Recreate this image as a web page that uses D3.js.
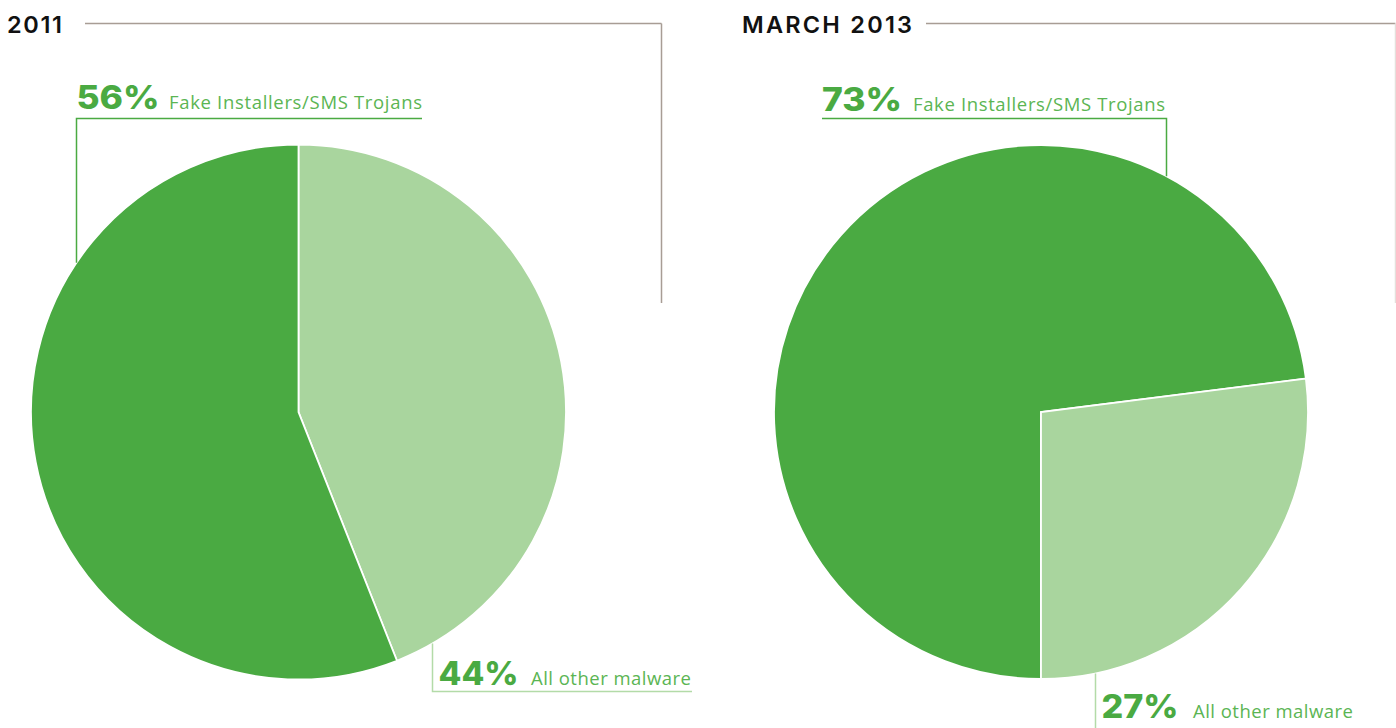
<!DOCTYPE html>
<html>
<head>
<meta charset="utf-8">
<script src="https://cdn.jsdelivr.net/npm/d3@7"></script>
<style>
  html, body { margin: 0; padding: 0; background: #ffffff; }
  svg { display: block; }
  .title { font-family: "Inter", "Open Sans", sans-serif; font-weight: 600; fill: #111111; }
  .pct { font-family: "Inter", "Open Sans", sans-serif; font-weight: 800; fill: #4aaa42; }
  .lbl { font-family: "Open Sans", "Lato", sans-serif; font-weight: 400; fill: #5bb553; }
</style>
</head>
<body>
<svg id="chart" width="1396" height="728"></svg>
<script>
// Share of Android malware families, by period
const periods = ["2011", "MARCH 2013"];
const categories = ["Fake Installers/SMS Trojans", "All other malware"];
const shares2011 = [56, 44];
const shares2013 = [73, 27];

const svg = d3.select("#chart");

const colors = d3.scaleOrdinal()
  .domain(categories)
  .range(["#4aaa42", "#a9d59e"]);

const frameColor = "#a89d95";
const leaderDark = "#4aaa42";
const leaderLight = "#b3dba8";

// Layout of the two panels
const panels = [
  {
    title: periods[0], values: shares2011,
    cx: 298.5, cy: 412, r: 267.5,
    start: 0, order: [1, 0],
    titleX: 7, titleW: 55, frameX0: 85, frameX1: 661.5, frameY1: 303, sideColor: frameColor,
    topAtLeft: true,
    top: { x: 76.5, y: 109, lineY: 118.5, lineX1: 422, pctW: 83, lblX: 169, lblW: 253 },
    bottom: { x: 432.5, y: 685, lineY: 691.5, lineX1: 692, pctW: 80, lblX: 531, lblW: 160 }
  },
  {
    title: periods[1], values: shares2013,
    cx: 1041, cy: 412, r: 267,
    start: Math.PI, order: [0, 1],
    titleX: 742, titleW: 170, frameX0: 926, frameX1: 1395.5, frameY1: 303, sideColor: "#e4e0dc",
    topAtLeft: false,
    top: { x: 822, y: 111, lineY: 118.5, lineX1: 1166.5, pctW: 80, lblX: 913, lblW: 252 },
    bottom: { x: 1095.5, y: 718, lineY: 735, lineX1: 1360, pctW: 77, lblX: 1193, lblW: 160 }
  }
];

function label(g, x, y, pct, pctW, lblX, lblW, text) {
  g.append("text").attr("class", "pct")
    .attr("x", x).attr("y", y).attr("font-size", 32)
    .attr("textLength", pctW).attr("lengthAdjust", "spacingAndGlyphs")
    .text(pct + "%");
  g.append("text").attr("class", "lbl")
    .attr("x", lblX).attr("y", y).attr("font-size", 18.5)
    .attr("textLength", lblW).attr("lengthAdjust", "spacing")
    .text(text);
}

panels.forEach(p => {
  const g = svg.append("g");

  // title and frame rule
  g.append("text").attr("class", "title")
    .attr("x", p.titleX).attr("y", 33)
    .attr("font-size", 23.5)
    .attr("textLength", p.titleW).attr("lengthAdjust", "spacing")
    .text(p.title);
  g.append("path")
    .attr("d", `M${p.frameX0},23.5H${p.frameX1}`)
    .attr("fill", "none").attr("stroke", frameColor).attr("stroke-width", 1.5);
  g.append("path")
    .attr("d", `M${p.frameX1},23.5V${p.frameY1}`)
    .attr("fill", "none").attr("stroke", p.sideColor).attr("stroke-width", 1.5);

  // pie
  const rows = p.order.map(i => ({ cat: categories[i], value: p.values[i] }));
  const pie = d3.pie().sort(null).value(d => d.value)
    .startAngle(p.start).endAngle(p.start + 2 * Math.PI);
  const arc = d3.arc().innerRadius(0).outerRadius(p.r);
  g.append("g").attr("transform", `translate(${p.cx},${p.cy})`)
    .selectAll("path").data(pie(rows)).join("path")
    .attr("d", arc)
    .attr("fill", d => colors(d.data.cat))
    .attr("stroke", "#ffffff")
    .attr("stroke-width", 1.8)
    .attr("stroke-linejoin", "miter");

  // top leader (Fake Installers)
  const t = p.top;
  const topEdgeX = p.topAtLeft ? t.x : t.lineX1;
  const topEdgeY = p.cy - Math.sqrt(p.r * p.r - (topEdgeX - p.cx) ** 2);
  g.append("path")
    .attr("d", p.topAtLeft
      ? `M${t.lineX1},${t.lineY}H${t.x}V${topEdgeY}`
      : `M${t.x},${t.lineY}H${t.lineX1}V${topEdgeY}`)
    .attr("fill", "none").attr("stroke", leaderDark).attr("stroke-width", 1.5);
  label(g, t.x, t.y, p.values[0], t.pctW, t.lblX, t.lblW, categories[0]);

  // bottom leader (All other malware)
  const b = p.bottom;
  const botEdgeY = p.cy + Math.sqrt(p.r * p.r - (b.x - p.cx) ** 2);
  g.append("path")
    .attr("d", `M${b.x},${botEdgeY}V${b.lineY}H${b.lineX1}`)
    .attr("fill", "none").attr("stroke", leaderLight).attr("stroke-width", 1.5);
  label(g, b.x + 6, b.y, p.values[1], b.pctW, b.lblX, b.lblW, categories[1]);
});
</script>
</body>
</html>
